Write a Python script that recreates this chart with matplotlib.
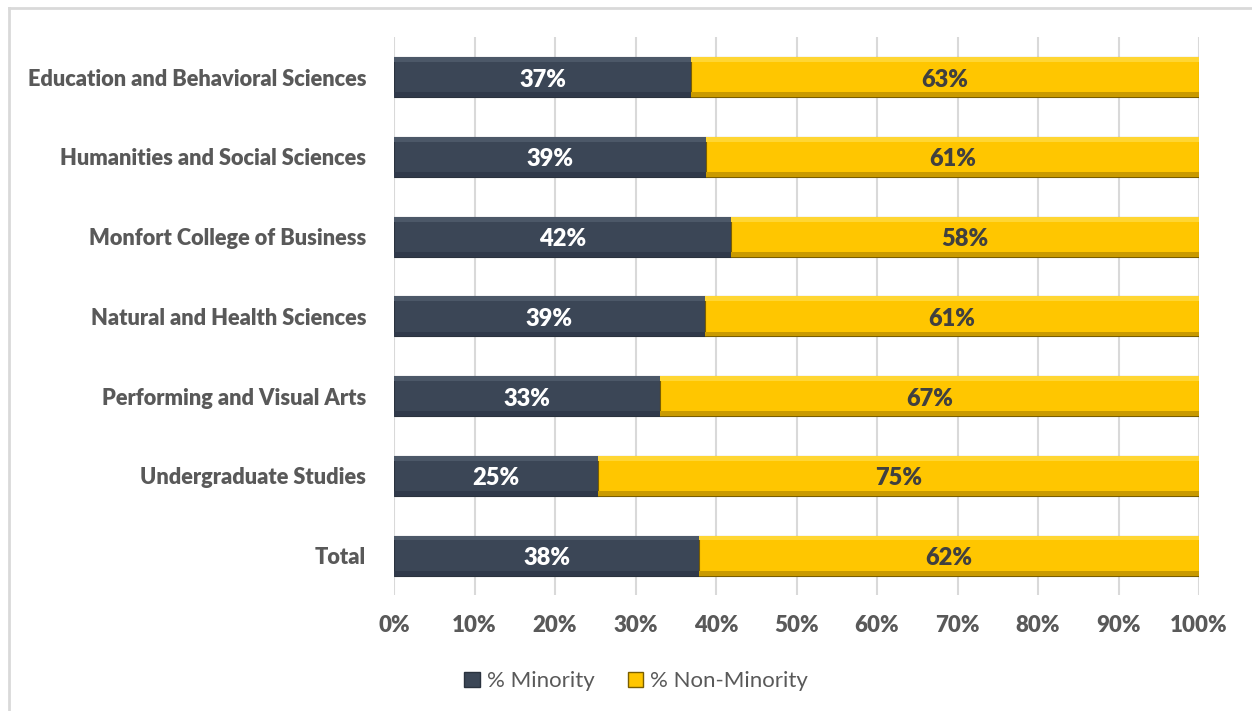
import numpy as np
import matplotlib.pyplot as plt
from matplotlib.patches import Rectangle
from matplotlib.lines import Line2D

plt.rcParams['font.family'] = ['Lato', 'DejaVu Sans']

categories = ['Education and Behavioral Sciences', 'Humanities and Social Sciences',
              'Monfort College of Business', 'Natural and Health Sciences',
              'Performing and Visual Arts', 'Undergraduate Studies', 'Total']
minority = [37, 39, 42, 39, 33, 25, 38]
non_minority = [63, 61, 58, 61, 67, 75, 62]
minority_exact = [36.9, 38.8, 41.8, 38.6, 33.0, 25.3, 37.9]
series_names = ['% Minority', '% Non-Minority']

dark = '#3b4656'
gold = '#ffc600'
label_gray = '#595959'

fig = plt.figure(figsize=(12.52, 7.11), dpi=100)
ax = fig.add_axes([0.3147, 0.1625, 0.643, 0.785])

y = np.arange(len(categories))
h = 0.5

left_w = np.array(minority_exact) / 100
right_w = 1 - left_w

ax.barh(y, left_w, height=h, color=dark, edgecolor='#2a323e', linewidth=0.8, zorder=3)
ax.barh(y, right_w, left=left_w, height=h, color=gold, edgecolor='#7a5e00', linewidth=0.8, zorder=3)

# soft bevel: light strip on top, darker strip on bottom
bev = 0.06
ax.barh(y - h / 2 + bev / 2, left_w, height=bev, color='#4c5868', linewidth=0, zorder=4)
ax.barh(y + h / 2 - bev / 2, left_w, height=bev, color='#30394a', linewidth=0, zorder=4)
ax.barh(y - h / 2 + bev / 2, right_w, left=left_w, height=bev, color='#ffd633', linewidth=0, zorder=4)
ax.barh(y + h / 2 - bev / 2, right_w, left=left_w, height=bev, color='#c99a00', linewidth=0, zorder=4)

for i in range(len(categories)):
    ax.text(left_w[i] / 2, y[i] + 0.03, f'{minority[i]}%', ha='center', va='center',
            color='white', fontsize=17, fontweight='heavy', zorder=5)
    ax.text(left_w[i] + right_w[i] / 2, y[i] + 0.03, f'{non_minority[i]}%', ha='center',
            va='center', color='#404040', fontsize=17, fontweight='heavy', zorder=5)

ax.set_xlim(0, 1)
ax.set_ylim(len(categories) - 0.5, -0.5)
ax.set_xticks(np.linspace(0, 1, 11))
ax.set_xticklabels([f'{int(v)}%' for v in np.linspace(0, 100, 11)])
ax.set_yticks(y)
ax.set_yticklabels(categories)
ax.tick_params(axis='x', length=0, pad=14, labelsize=16, labelcolor=label_gray)
ax.tick_params(axis='y', length=0, pad=20, labelsize=15.7, labelcolor=label_gray)
for t in ax.get_xticklabels() + ax.get_yticklabels():
    t.set_fontweight('heavy')
ax.grid(axis='x', color='#d9d9d9', linewidth=1.5, zorder=0)
for s in ax.spines.values():
    s.set_visible(False)

handles = [Rectangle((0, 0), 1, 1, facecolor=dark, edgecolor='#2a323e'),
           Rectangle((0, 0), 1, 1, facecolor=gold, edgecolor='#7a5e00')]
leg = fig.legend(handles, series_names, loc='center', bbox_to_anchor=(0.508, 0.042), ncol=2,
                 frameon=False, fontsize=16, handlelength=0.7, handleheight=0.7,
                 handletextpad=0.3, columnspacing=1.5)
for t in leg.get_texts():
    t.set_color(label_gray)

# outer frame (only left and top visible in the crop)
fig.add_artist(Line2D([0.0068, 0.0068], [0, 0.989], transform=fig.transFigure,
                      color='#d9d9d9', linewidth=2))
fig.add_artist(Line2D([0.0068, 1], [0.989, 0.989], transform=fig.transFigure,
                      color='#d9d9d9', linewidth=2))

fig.savefig('out.png', dpi=100)
